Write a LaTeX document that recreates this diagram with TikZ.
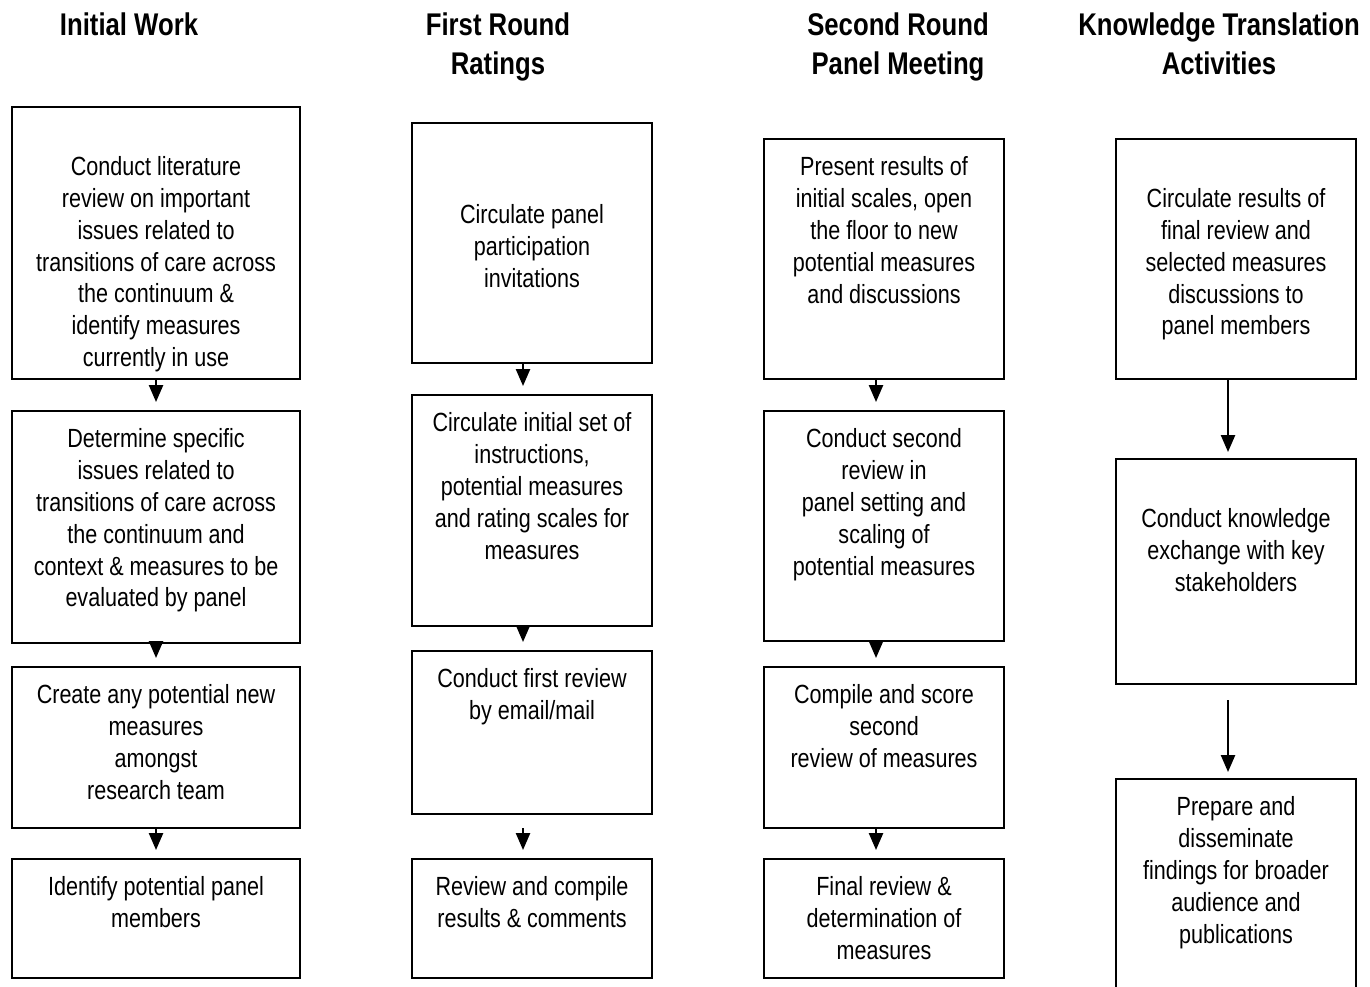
\documentclass[tikz,border=0pt]{standalone}
\usepackage{fontspec}
\setmainfont[FakeStretch=0.82]{Liberation Sans}
\usetikzlibrary{arrows.meta}

\begin{document}
\begin{tikzpicture}[
    x=0.025cm, y=-0.025cm,
    phase/.style={
        font=\fontsize{22.3}{27.7}\selectfont\bfseries,
        align=center
    },
    stage/.style 2 args={
        draw,
        line width=1.4pt,
        anchor=north west,
        inner xsep=0pt,
        inner ysep=0.35cm,
        execute at begin node={\begin{minipage}[t][#2][t]{#1}\centering\fontsize{18.7}{22.7}\selectfont\strut},
        execute at end node={\end{minipage}}
    },
    line/.style={
        draw, -{Triangle[length=12pt,width=10pt]}, line width=1.4pt
    }
]
    \clip (0,0) rectangle (1370,987);

    % Headings
    \node [phase] (hinit) at (129,24) {Initial Work};
    \node [phase] (hfirst) at (498,47) {First Round\\Ratings};
    \node [phase] (hsecond) at (898,47) {Second Round\\Panel Meeting};
    \node [phase] (hkt) at (1219,44) {Knowledge Translation\\Activities};

    % Initial work
    \node [stage={7.2cm}{6.1cm}] (lit) at (11,106) {\mbox{}\\Conduct literature\\review on important\\issues related to\\transitions of care across\\the continuum \&\\identify measures\\currently in use};
    \node [stage={7.2cm}{5.1cm}] (issues) at (11,410) {Determine specific\\issues related to\\transitions of care across\\the continuum and\\context \& measures to be\\evaluated by panel};
    \node [stage={7.2cm}{3.325cm}] (create) at (11,666) {Create any potential new\\measures\\amongst\\research team};
    \node [stage={7.2cm}{2.275cm}] (ident) at (11,858) {Identify potential panel\\members};

    % First round
    \node [stage={6cm}{5.3cm}] (invite) at (411,122) {\mbox{}\\\mbox{}\\Circulate panel\\participation\\invitations};
    \node [stage={6cm}{5.075cm}] (instr) at (411,394) {Circulate initial set of\\instructions,\\potential measures\\and rating scales for\\measures};
    \node [stage={6cm}{3.375cm}] (firstrev) at (411,650) {Conduct first review\\by email/mail};
    \node [stage={6cm}{2.275cm}] (compile) at (411,858) {Review and compile\\results \& comments};

    % Second round
    \node [stage={6cm}{5.3cm}] (present) at (763,138) {Present results of\\initial scales, open\\the floor to new\\potential measures\\and discussions};
    \node [stage={6cm}{5.05cm}] (secondrev) at (763,410) {Conduct second\\review in\\panel setting and\\scaling of\\potential measures};
    \node [stage={6cm}{3.325cm}] (score) at (763,666) {Compile and score\\second\\review of measures};
    \node [stage={6cm}{2.275cm}] (final) at (763,858) {Final review \&\\determination of\\measures};

    % Knowledge translation
    \node [stage={6cm}{5.3cm}] (circ) at (1115,138) {\mbox{}\\Circulate results of\\final review and\\selected measures\\discussions to\\panel members};
    \node [stage={6cm}{4.925cm}] (exch) at (1115,458) {\mbox{}\\Conduct knowledge\\exchange with key\\stakeholders};
    \node [stage={6cm}{5.3cm}] (dissem) at (1115,778) {Prepare and\\disseminate\\findings for broader\\audience and\\publications};

    % Edges
    \path [line, shorten >=0.2cm] (lit) -- (issues);
    \path [line, shorten >=0.2cm] (issues) -- (create);
    \path [line, shorten >=0.2cm] (create) -- (ident);

    \path [line, shorten >=0.2cm] ([xshift=-0.225cm]invite.south) -- ([xshift=-0.225cm]instr.north);
    \path [line, shorten >=0.2cm] ([xshift=-0.225cm]instr.south) -- ([xshift=-0.225cm]firstrev.north);
    \path [line, shorten <=0.325cm, shorten >=0.2cm] ([xshift=-0.225cm]firstrev.south) -- ([xshift=-0.225cm]compile.north);

    \path [line, shorten >=0.2cm] ([xshift=-0.2cm]present.south) -- ([xshift=-0.2cm]secondrev.north);
    \path [line, shorten >=0.2cm] ([xshift=-0.2cm]secondrev.south) -- ([xshift=-0.2cm]score.north);
    \path [line, shorten >=0.2cm] ([xshift=-0.2cm]score.south) -- ([xshift=-0.2cm]final.north);

    \path [line, shorten >=0.15cm] ([xshift=-0.2cm]circ.south) -- ([xshift=-0.2cm]exch.north);
    \path [line, shorten <=0.375cm, shorten >=0.15cm] ([xshift=-0.2cm]exch.south) -- ([xshift=-0.2cm]dissem.north);

\end{tikzpicture}
\end{document}
